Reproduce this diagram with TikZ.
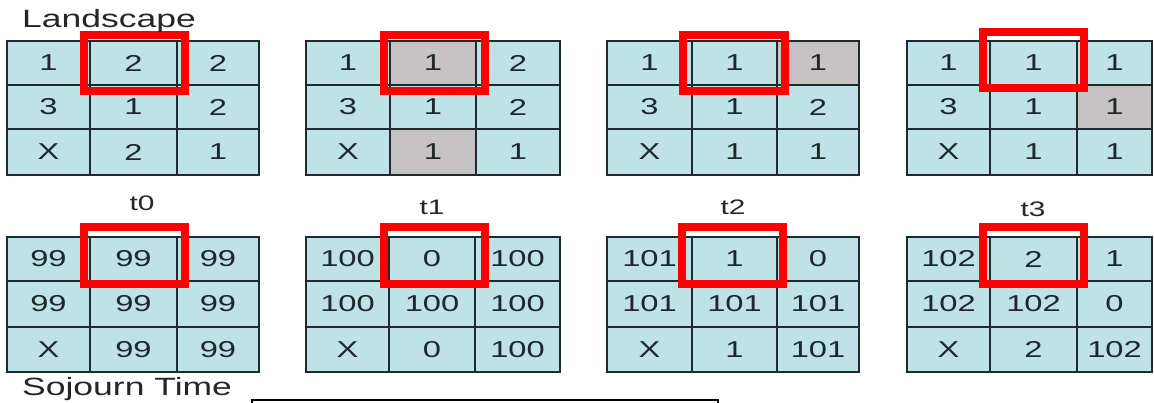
\documentclass[tikz,border=0pt]{standalone}
\usepackage{fontspec}
\setmainfont{Liberation Sans}[FakeStretch=1.42]
\definecolor{lblue}{RGB}{190,226,229}
\definecolor{lgray}{RGB}{199,194,196}
\definecolor{gline}{RGB}{30,42,44}
\definecolor{gtext}{RGB}{30,40,42}
\newcommand\cellat[7]{\node[cellbox, fill=#7, minimum width={#3-#2}, minimum height={#5-#4}] (#1) at ({(#2+#3)/2},{(#4+#5)/2}) {#6};}
\newcommand\setcols[4]{\def\gxa{#1}\def\gxb{#2}\def\gxc{#3}\def\gxd{#4}}
\newcommand\gridrow[9]{%
  \cellat{#1-1}{\gxa}{\gxb}{#2}{#3}{#4}{#7}
  \cellat{#1-2}{\gxb}{\gxc}{#2}{#3}{#5}{#8}
  \cellat{#1-3}{\gxc}{\gxd}{#2}{#3}{#6}{#9}}
\tikzset{
  cellbox/.style={rectangle, draw=gline, line width=2pt, inner sep=0pt, outer sep=0pt,
    text=gtext, font=\fontsize{23}{27}\selectfont},
  redbox/.style={rectangle, draw=red, line width=8pt, inner sep=0pt, outer sep=0pt, fill=none},
  biglabel/.style={anchor=base west, inner sep=0pt, text=black!85, font=\fontsize{25}{30}\selectfont},
  tlabel/.style={anchor=base, inner sep=0pt, text=black!85, font=\fontsize{21}{25}\selectfont}
}
\begin{document}
\begin{tikzpicture}[x=1pt,y=-1pt]
\useasboundingbox (0,0) rectangle (1154,402);
\clip (0,0) rectangle (1154,402);
\fill[white] (0,0) rectangle (1154,402);
% top row: landscape
\setcols{7}{90}{177}{259}
\gridrow{a1}{41}{85}{1}{2}{2}{lblue}{lblue}{lblue}
\gridrow{a2}{85}{129}{3}{1}{2}{lblue}{lblue}{lblue}
\gridrow{a3}{129}{175}{X}{2}{1}{lblue}{lblue}{lblue}
\setcols{306}{390}{476}{560}
\gridrow{b1}{41}{85}{1}{1}{2}{lblue}{lgray}{lblue}
\gridrow{b2}{85}{129}{3}{1}{2}{lblue}{lblue}{lblue}
\gridrow{b3}{129}{175}{X}{1}{1}{lblue}{lgray}{lblue}
\setcols{607}{692}{777}{859}
\gridrow{c1}{41}{85}{1}{1}{1}{lblue}{lblue}{lgray}
\gridrow{c2}{85}{129}{3}{1}{2}{lblue}{lblue}{lblue}
\gridrow{c3}{129}{175}{X}{1}{1}{lblue}{lblue}{lblue}
\setcols{907}{990}{1077}{1152}
\gridrow{d1}{41}{85}{1}{1}{1}{lblue}{lblue}{lblue}
\gridrow{d2}{85}{129}{3}{1}{1}{lblue}{lblue}{lgray}
\gridrow{d3}{129}{175}{X}{1}{1}{lblue}{lblue}{lblue}
% bottom row: sojourn time
\setcols{7}{90}{177}{259}
\gridrow{e1}{237}{281}{99}{99}{99}{lblue}{lblue}{lblue}
\gridrow{e2}{281}{327}{99}{99}{99}{lblue}{lblue}{lblue}
\gridrow{e3}{327}{372}{X}{99}{99}{lblue}{lblue}{lblue}
\setcols{306}{389}{475}{560}
\gridrow{f1}{237}{281}{100}{0}{100}{lblue}{lblue}{lblue}
\gridrow{f2}{281}{327}{100}{100}{100}{lblue}{lblue}{lblue}
\gridrow{f3}{327}{372}{X}{0}{100}{lblue}{lblue}{lblue}
\setcols{607}{692}{777}{859}
\gridrow{g1}{237}{281}{101}{1}{0}{lblue}{lblue}{lblue}
\gridrow{g2}{281}{327}{101}{101}{101}{lblue}{lblue}{lblue}
\gridrow{g3}{327}{372}{X}{1}{101}{lblue}{lblue}{lblue}
\setcols{907}{990}{1077}{1152}
\gridrow{h1}{237}{281}{102}{2}{1}{lblue}{lblue}{lblue}
\gridrow{h2}{281}{327}{102}{102}{0}{lblue}{lblue}{lblue}
\gridrow{h3}{327}{372}{X}{2}{102}{lblue}{lblue}{lblue}
% red highlight boxes
\node[redbox, minimum width=101, minimum height=56] (ra) at (134.5,63) {};
\node[redbox, minimum width=101, minimum height=56] (rb) at (434.5,63) {};
\node[redbox, minimum width=102, minimum height=56] (rc) at (734,63) {};
\node[redbox, minimum width=101, minimum height=56] (rd) at (1033.5,60) {};
\node[redbox, minimum width=101, minimum height=57] (re) at (134.5,255.5) {};
\node[redbox, minimum width=101, minimum height=57] (rf) at (434.5,255.5) {};
\node[redbox, minimum width=101, minimum height=57] (rg) at (732.5,255.5) {};
\node[redbox, minimum width=101, minimum height=57] (rh) at (1033.5,255.5) {};
% labels
\node[biglabel] (land) at (22,27) {Landscape};
\node[biglabel] (soj) at (22,395) {Sojourn Time};
\node[tlabel] (t0) at (142,210) {t0};
\node[tlabel] (t1) at (432,214) {t1};
\node[tlabel] (t2) at (733,214) {t2};
\node[tlabel] (t3) at (1033,216) {t3};
% partly visible box at bottom
\node[rectangle, draw=black, line width=2pt, fill=white, inner sep=0pt, minimum width=466, minimum height=30] (legend) at (485,414.5) {};
\end{tikzpicture}
\end{document}
